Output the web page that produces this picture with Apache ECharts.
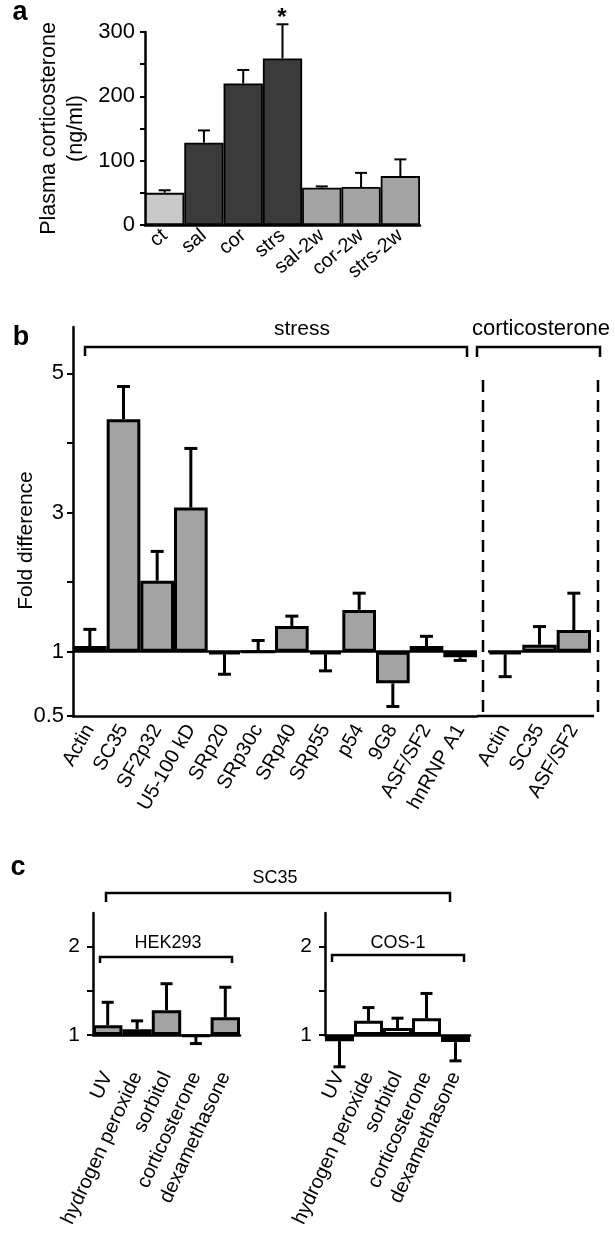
<!DOCTYPE html>
<html>
<head>
<meta charset="utf-8">
<script src="https://cdn.jsdelivr.net/npm/echarts@6/dist/echarts.min.js"></script>
<style>
  html, body { margin: 0; background: #fff; }
  #chart { width: 615px; height: 1237px; }
</style>
</head>
<body>
<div id="chart"></div>
<script>
// a: plasma corticosterone (ng/ml)
const plasmaGroups = ["ct", "sal", "cor", "strs", "sal-2w", "cor-2w", "strs-2w"];
const plasmaMean = [50, 128, 220, 259, 58, 59, 76];
const plasmaErrTop = [54, 147, 241, 312, 60, 81, 102];

// b: fold difference, stress and corticosterone
const stressGenes = ["Actin", "SC35", "SF2p32", "U5-100 kD", "SRp20", "SRp30c", "SRp40", "SRp55", "p54", "9G8", "ASF/SF2", "hnRNP A1"];
const stressFold = [1.08, 4.34, 2.02, 3.07, 0.96, 1.0, 1.37, 0.96, 1.6, 0.67, 1.08, 0.92];
const stressErrEnd = [1.32, 4.81, 2.44, 3.92, 0.74, 1.16, 1.51, 0.77, 1.84, 0.54, 1.22, 0.88];
const corticoGenes = ["Actin", "SC35", "ASF/SF2"];
const corticoFold = [0.96, 1.1, 1.31];
const corticoErrEnd = [0.72, 1.36, 1.84];

// c: SC35 in cell lines
const treatments = ["UV", "hydrogen peroxide", "sorbitol", "corticosterone", "dexamethasone"];
const hekFold = [1.11, 1.065, 1.28, 0.98, 1.2];
const hekErrEnd = [1.37, 1.16, 1.58, 0.905, 1.54];
const cosFold = [0.93, 1.16, 1.08, 1.19, 0.92];
const cosErrEnd = [0.72, 1.31, 1.19, 1.47, 0.76];

// fold axis: linear above 1, fold-decrease below 1
const DOWN = 0.925;
const fold = (v) => (v >= 1 ? v - 1 : (1 - 1 / v) * DOWN);
const unfold = (t) => (t >= 0 ? t + 1 : 1 / (1 - t / DOWN));

const FONT = "'Liberation Sans', Arial, sans-serif";
const INK = "#000";

const G = {
  a: { left: 145, top: 32, width: 275, height: 193 },
  b1: { left: 73, top: 327, width: 404, height: 389 },
  b2: { left: 488, top: 327, width: 103, height: 389 },
  c1: { left: 93, top: 913, width: 147, height: 122 },
  c2: { left: 325, top: 913, width: 145, height: 122 },
};

const plasmaColor = (name) => (name === "ct" ? "#c9c9c9" : name.endsWith("-2w") ? "#a4a4a4" : "#3b3b3b");

function errorSeries(idx, means, ends, capHalf, width) {
  return {
    type: "custom",
    xAxisIndex: idx,
    yAxisIndex: idx,
    z: 1,
    silent: true,
    clip: false,
    data: means.map((m, i) => [i, m, ends[i]]),
    renderItem: (params, api) => {
      const base = api.coord([api.value(0), api.value(1)]);
      const tip = api.coord([api.value(0), api.value(2)]);
      const style = { stroke: INK, lineWidth: width };
      return {
        type: "group",
        children: [
          { type: "line", shape: { x1: base[0], y1: base[1], x2: base[0], y2: tip[1] }, style },
          { type: "line", shape: { x1: base[0] - capHalf, y1: tip[1], x2: base[0] + capHalf, y2: tip[1] }, style },
        ],
      };
    },
  };
}

function catAxis(idx, names, rotate, margin, showLine) {
  return {
    type: "category",
    gridIndex: idx,
    data: names,
    boundaryGap: true,
    axisLine: { show: showLine, onZero: false, lineStyle: { color: INK, width: 2.5 } },
    axisTick: { show: false },
    axisLabel: { rotate, margin, color: INK, fontSize: 20, fontFamily: FONT, interval: 0 },
  };
}

function foldAxis(idx, min, max, ticks, labels, show, margin, size) {
  return {
    type: "value",
    gridIndex: idx,
    min,
    max,
    show,
    splitLine: { show: false },
    axisLine: { show: true, lineStyle: { color: INK, width: 2.5 } },
    axisTick: { show: true, length: 6, customValues: ticks, lineStyle: { color: INK, width: 2 } },
    axisLabel: {
      customValues: labels,
      margin,
      color: INK,
      fontSize: size,
      fontFamily: FONT,
      formatter: (t) => String(Math.round(unfold(t) * 10) / 10),
    },
  };
}

const baselineAt1 = {
  symbol: "none",
  silent: true,
  label: { show: false },
  lineStyle: { color: INK, width: 2.5, type: "solid" },
  data: [{ yAxis: 0 }],
};

const bLow = fold(0.5);
const bHigh = 4.665;
const cHigh = fold(2.38);

const line = (points, dash) => ({
  type: "polyline",
  shape: { points },
  style: { stroke: INK, lineWidth: 2.5, fill: null, lineDash: dash || null },
  silent: true,
});
const text = (str, x, y, size, weight) => ({
  type: "text",
  x,
  y,
  silent: true,
  style: {
    text: str,
    font: `${weight || "normal"} ${size}px ${FONT}`,
    fill: INK,
    align: "center",
    textAlign: "center",
    verticalAlign: "middle",
    textVerticalAlign: "middle",
  },
});

const bBottom = G.b1.top + G.b1.height;
const dashL = 483;
const dashR = 598;

const chart = echarts.init(document.getElementById("chart"));
chart.setOption({
  animation: false,
  backgroundColor: "#fff",
  grid: [G.a, G.b1, G.b2, G.c1, G.c2].map((g) => ({ ...g, containLabel: false })),
  xAxis: [
    catAxis(0, plasmaGroups, 40, 8, true),
    catAxis(1, stressGenes, 60, 10, true),
    catAxis(2, corticoGenes, 60, 10, false),
    catAxis(3, treatments, 65, 38, true),
    catAxis(4, treatments, 65, 38, true),
  ],
  yAxis: [
    {
      type: "value",
      gridIndex: 0,
      min: 0,
      max: 300,
      interval: 50,
      name: "Plasma corticosterone\n(ng/ml)",
      nameLocation: "middle",
      nameGap: 55,
      nameMoveOverlap: false,
      nameTextStyle: { color: INK, fontSize: 21.5, fontFamily: FONT, lineHeight: 27 },
      splitLine: { show: false },
      axisLine: { show: true, lineStyle: { color: INK, width: 2.5 } },
      axisTick: { show: true, length: 5, lineStyle: { color: INK, width: 2 } },
      axisLabel: {
        margin: 10,
        color: INK,
        fontSize: 22,
        fontFamily: FONT,
        formatter: (v) => (v % 100 === 0 ? String(v) : ""),
      },
    },
    {
      ...foldAxis(1, bLow, bHigh, [bLow, 0, 1, 2, 3, 4], [bLow, 0, 2, 4], true, 9, 22),
      name: "Fold difference",
      nameLocation: "middle",
      nameGap: 36,
      nameMoveOverlap: false,
      nameTextStyle: { color: INK, fontSize: 21, fontFamily: FONT, padding: [0, 38, 0, 0] },
    },
    foldAxis(2, bLow, bHigh, [], [], false, 9, 22),
    foldAxis(3, 0, cHigh, [0, 0.5, 1], [0, 1], true, 13, 21),
    foldAxis(4, 0, cHigh, [0, 0.5, 1], [0, 1], true, 13, 21),
  ],
  series: [
    {
      type: "bar",
      xAxisIndex: 0,
      yAxisIndex: 0,
      barCategoryGap: "0%",
      data: plasmaMean.map((v, i) => ({ value: v, itemStyle: { color: plasmaColor(plasmaGroups[i]) } })),
      itemStyle: { borderColor: INK, borderWidth: 1.8 },
    },
    errorSeries(0, plasmaMean, plasmaErrTop, 6, 2),
    {
      type: "bar",
      xAxisIndex: 1,
      yAxisIndex: 1,
      barCategoryGap: "0%",
      clip: false,
      data: stressFold.map(fold),
      itemStyle: { color: "#a3a3a3", borderColor: INK, borderWidth: 3 },
      markLine: baselineAt1,
    },
    errorSeries(1, stressFold.map(fold), stressErrEnd.map(fold), 6.5, 3),
    {
      type: "bar",
      xAxisIndex: 2,
      yAxisIndex: 2,
      barCategoryGap: "0%",
      clip: false,
      data: corticoFold.map(fold),
      itemStyle: { color: "#a3a3a3", borderColor: INK, borderWidth: 3 },
      markLine: baselineAt1,
    },
    errorSeries(2, corticoFold.map(fold), corticoErrEnd.map(fold), 6.5, 3),
    {
      type: "bar",
      xAxisIndex: 3,
      yAxisIndex: 3,
      barCategoryGap: "0%",
      clip: false,
      data: hekFold.map(fold),
      itemStyle: { color: "#a3a3a3", borderColor: INK, borderWidth: 3 },
    },
    errorSeries(3, hekFold.map(fold), hekErrEnd.map(fold), 6, 3),
    {
      type: "bar",
      xAxisIndex: 4,
      yAxisIndex: 4,
      barCategoryGap: "0%",
      clip: false,
      data: cosFold.map((v) => ({ value: fold(v), itemStyle: { color: v < 1 ? INK : "#fff" } })),
      itemStyle: { borderColor: INK, borderWidth: 3 },
    },
    errorSeries(4, cosFold.map(fold), cosErrEnd.map(fold), 6, 3),
  ],
  graphic: [
    text("a", 20, 13, 27, "bold"),
    text("b", 21, 338, 27, "bold"),
    text("c", 18, 868, 27, "bold"),
    text("*", 282, 18, 24, "bold"),
    // b: group brackets
    text("stress", 302, 329, 21),
    text("corticosterone", 541, 329, 22),
    line([[85, 356], [85, 347], [467, 347], [467, 357]]),
    line([[477, 357], [477, 347], [600, 347], [600, 357]]),
    line([[dashL, 380], [dashL, bBottom]], [12, 8]),
    line([[dashR, 380], [dashR, bBottom - 4], [dashR - 4, bBottom]], [12, 8]),
    line([[G.b1.left + G.b1.width, bBottom], [dashR - 4, bBottom]]),
    // c: brackets
    text("SC35", 275, 878, 18),
    line([[106, 902], [106, 893], [450, 893], [450, 902]]),
    text("HEK293", 168, 943, 18),
    line([[100, 963], [100, 957], [232, 957], [232, 963]]),
    text("COS-1", 398, 943, 18),
    line([[332, 962], [332, 955], [464, 955], [464, 962]]),
  ],
});
window.addEventListener("resize", () => chart.resize());
</script>
</body>
</html>
